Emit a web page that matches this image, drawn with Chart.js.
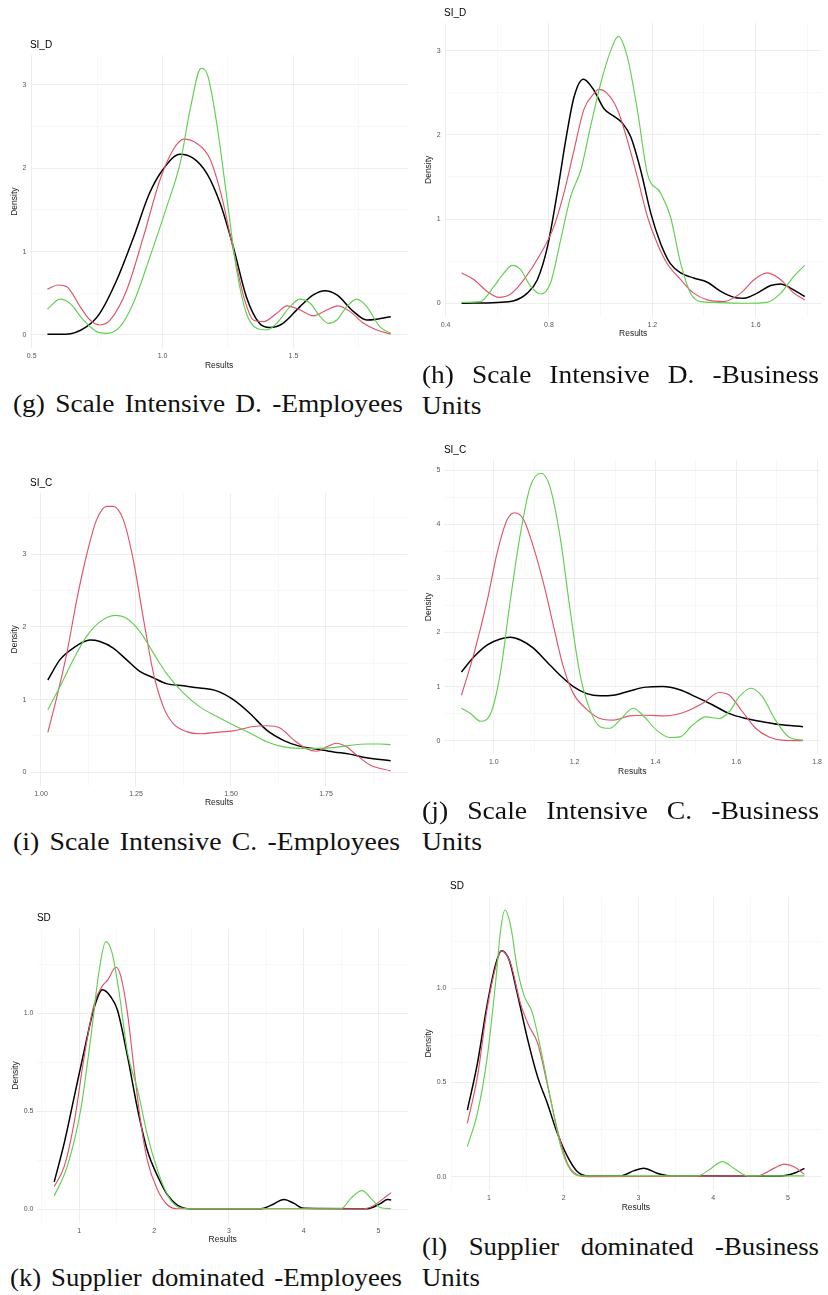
<!DOCTYPE html>
<html>
<head>
<meta charset="utf-8">
<script src="https://cdn.jsdelivr.net/npm/chart.js@4.4.0/dist/chart.umd.min.js"></script>
<style>
  body { margin: 0; background: #fff; width: 828px; height: 1295px; position: relative; overflow: hidden; }
  canvas { position: absolute; }
  .cap { position: absolute; font-family: "Liberation Serif", "Times New Roman", serif; font-size: 24.5px;
         line-height: 24.5px; white-space: nowrap; color: #111; transform-origin: 0 0; word-spacing: 3px; }
</style>
</head>
<body>
<script>
// density curves, [x, y] pairs
// (g) SI_D employees
const gBlack = [[0.56,0.01],[0.63,0.01],[0.71,0.1],[0.76,0.26],[0.825,0.66],[0.89,1.18],[0.95,1.7],[1.0,1.98],[1.067,2.17],[1.118,2.12],[1.169,1.94],[1.22,1.58],[1.27,1.06],[1.32,0.46],[1.37,0.14],[1.41,0.09],[1.46,0.14],[1.525,0.34],[1.576,0.48],[1.62,0.53],[1.666,0.48],[1.73,0.28],[1.78,0.18],[1.818,0.19],[1.872,0.22]];
const gRed = [[0.56,0.55],[0.6,0.6],[0.634,0.58],[0.685,0.34],[0.723,0.18],[0.76,0.12],[0.8,0.18],[0.863,0.54],[0.927,1.18],[0.99,1.86],[1.04,2.22],[1.08,2.35],[1.13,2.3],[1.18,2.12],[1.226,1.66],[1.27,1.02],[1.31,0.46],[1.347,0.18],[1.385,0.16],[1.436,0.26],[1.475,0.35],[1.525,0.3],[1.576,0.23],[1.627,0.3],[1.67,0.35],[1.717,0.28],[1.768,0.14],[1.818,0.06],[1.872,0.01]];
const gGreen = [[0.56,0.31],[0.608,0.43],[0.646,0.38],[0.697,0.18],[0.748,0.04],[0.787,0.02],[0.838,0.1],[0.888,0.38],[0.952,0.94],[1.016,1.54],[1.067,2.06],[1.105,2.7],[1.147,3.2],[1.172,3.12],[1.207,2.54],[1.245,1.66],[1.283,0.78],[1.32,0.26],[1.36,0.08],[1.398,0.06],[1.436,0.14],[1.487,0.34],[1.525,0.43],[1.564,0.38],[1.602,0.22],[1.634,0.14],[1.666,0.18],[1.704,0.34],[1.742,0.43],[1.78,0.34],[1.83,0.1],[1.872,0.02]];
// (h) SI_D business units
const hBlack = [[0.462,0.0],[0.6,0.01],[0.665,0.03],[0.716,0.12],[0.755,0.28],[0.794,0.67],[0.832,1.31],[0.865,1.94],[0.897,2.45],[0.933,2.66],[0.974,2.53],[1.013,2.31],[1.052,2.22],[1.084,2.14],[1.116,1.98],[1.155,1.58],[1.194,1.07],[1.232,0.71],[1.27,0.47],[1.31,0.36],[1.36,0.3],[1.413,0.25],[1.465,0.14],[1.516,0.07],[1.555,0.06],[1.606,0.12],[1.658,0.21],[1.697,0.23],[1.735,0.18],[1.79,0.08]];
const hRed = [[0.462,0.36],[0.51,0.28],[0.561,0.14],[0.606,0.07],[0.652,0.11],[0.703,0.28],[0.768,0.59],[0.819,0.91],[0.858,1.31],[0.897,1.82],[0.935,2.3],[0.974,2.49],[0.993,2.54],[1.026,2.49],[1.065,2.3],[1.103,1.94],[1.142,1.5],[1.181,1.03],[1.219,0.71],[1.258,0.47],[1.31,0.28],[1.36,0.12],[1.413,0.04],[1.477,0.02],[1.542,0.12],[1.594,0.28],[1.645,0.36],[1.697,0.28],[1.748,0.12],[1.79,0.04]];
const hGreen = [[0.462,0.01],[0.535,0.02],[0.587,0.2],[0.626,0.36],[0.658,0.45],[0.69,0.4],[0.729,0.2],[0.768,0.11],[0.806,0.24],[0.845,0.75],[0.884,1.27],[0.923,1.58],[0.961,2.1],[1.0,2.61],[1.039,3.0],[1.068,3.17],[1.103,2.93],[1.142,2.3],[1.181,1.54],[1.232,1.31],[1.27,1.03],[1.31,0.47],[1.348,0.12],[1.387,0.02],[1.439,0.01],[1.568,0.0],[1.645,0.01],[1.697,0.12],[1.748,0.32],[1.79,0.45]];
// (i) SI_C employees
const iBlack = [[1.018,1.27],[1.05,1.55],[1.085,1.71],[1.129,1.82],[1.155,1.8],[1.19,1.71],[1.225,1.55],[1.26,1.39],[1.296,1.3],[1.33,1.22],[1.375,1.19],[1.418,1.16],[1.462,1.12],[1.506,1.0],[1.55,0.81],[1.594,0.58],[1.638,0.44],[1.68,0.36],[1.725,0.32],[1.77,0.28],[1.813,0.25],[1.857,0.2],[1.92,0.16]];
const iRed = [[1.018,0.55],[1.04,1.0],[1.068,1.64],[1.094,2.37],[1.12,2.99],[1.146,3.47],[1.173,3.66],[1.19,3.66],[1.217,3.47],[1.243,2.92],[1.27,2.1],[1.296,1.36],[1.322,0.9],[1.348,0.67],[1.383,0.56],[1.418,0.53],[1.462,0.55],[1.506,0.57],[1.559,0.63],[1.594,0.64],[1.629,0.61],[1.664,0.45],[1.7,0.32],[1.725,0.29],[1.752,0.35],[1.778,0.4],[1.804,0.35],[1.83,0.24],[1.866,0.1],[1.92,0.02]];
const iGreen = [[1.018,0.86],[1.05,1.18],[1.085,1.55],[1.12,1.87],[1.155,2.07],[1.195,2.16],[1.225,2.12],[1.26,1.94],[1.296,1.64],[1.33,1.36],[1.375,1.09],[1.418,0.9],[1.462,0.77],[1.506,0.65],[1.55,0.54],[1.594,0.42],[1.638,0.35],[1.68,0.33],[1.725,0.33],[1.77,0.34],[1.813,0.37],[1.857,0.39],[1.892,0.39],[1.92,0.38]];
// (j) SI_C business units
const jBlack = [[0.92,1.27],[0.951,1.55],[0.984,1.77],[1.016,1.88],[1.041,1.91],[1.066,1.86],[1.098,1.71],[1.131,1.46],[1.164,1.21],[1.197,1.0],[1.23,0.87],[1.263,0.83],[1.295,0.84],[1.336,0.92],[1.377,0.99],[1.418,1.0],[1.46,0.94],[1.5,0.81],[1.542,0.66],[1.583,0.5],[1.624,0.41],[1.665,0.35],[1.706,0.3],[1.765,0.26]];
const jRed = [[0.92,0.84],[0.951,1.61],[0.984,2.6],[1.008,3.46],[1.033,4.08],[1.052,4.21],[1.074,4.08],[1.098,3.58],[1.123,2.91],[1.148,2.11],[1.172,1.37],[1.197,0.87],[1.23,0.58],[1.263,0.41],[1.295,0.38],[1.336,0.46],[1.377,0.47],[1.426,0.46],[1.476,0.54],[1.517,0.69],[1.558,0.89],[1.583,0.84],[1.615,0.54],[1.648,0.23],[1.681,0.07],[1.714,0.01],[1.765,0.0]];
const jGreen = [[0.92,0.6],[0.943,0.5],[0.967,0.36],[0.992,0.5],[1.016,1.24],[1.041,2.6],[1.066,3.83],[1.09,4.69],[1.117,4.94],[1.139,4.69],[1.164,3.77],[1.189,2.41],[1.213,1.24],[1.238,0.57],[1.263,0.26],[1.287,0.23],[1.312,0.38],[1.345,0.6],[1.369,0.47],[1.402,0.2],[1.435,0.06],[1.46,0.07],[1.492,0.29],[1.525,0.44],[1.558,0.41],[1.583,0.54],[1.607,0.81],[1.636,0.97],[1.665,0.81],[1.697,0.38],[1.73,0.07],[1.765,0.01]];
// (k) SD employees
const kBlack = [[0.665,0.14],[0.8,0.34],[0.93,0.57],[1.066,0.81],[1.2,1.03],[1.31,1.12],[1.42,1.085],[1.51,1.017],[1.645,0.78],[1.78,0.51],[1.91,0.3],[2.046,0.17],[2.18,0.073],[2.31,0.022],[2.49,0.003],[3.43,0.003],[3.56,0.02],[3.74,0.05],[3.87,0.03],[4.0,0.005],[4.85,0.003],[5.03,0.03],[5.12,0.05],[5.17,0.048]];
const kRed = [[0.665,0.116],[0.8,0.22],[0.93,0.44],[1.066,0.78],[1.2,1.05],[1.31,1.14],[1.38,1.17],[1.49,1.235],[1.555,1.19],[1.645,1.0],[1.734,0.71],[1.823,0.44],[1.91,0.25],[2.046,0.1],[2.18,0.022],[2.31,0.003],[4.8,0.003],[4.94,0.02],[5.07,0.056],[5.17,0.085]];
const kGreen = [[0.665,0.068],[0.84,0.22],[1.02,0.51],[1.155,0.88],[1.266,1.22],[1.355,1.366],[1.44,1.306],[1.535,1.1],[1.645,0.8],[1.78,0.61],[1.91,0.38],[2.046,0.2],[2.18,0.073],[2.31,0.014],[2.45,0.003],[4.5,0.003],[4.63,0.056],[4.78,0.095],[4.92,0.048],[5.03,0.008],[5.17,0.003]];
// (l) SD business units
const lBlack = [[0.71,0.354],[0.844,0.6],[0.978,0.92],[1.09,1.13],[1.165,1.2],[1.27,1.15],[1.38,0.97],[1.51,0.74],[1.65,0.53],[1.78,0.39],[1.914,0.23],[2.05,0.106],[2.18,0.027],[2.315,0.004],[2.76,0.004],[2.94,0.032],[3.07,0.045],[3.25,0.018],[3.43,0.004],[4.9,0.004],[5.08,0.018],[5.22,0.044]];
const lRed = [[0.71,0.283],[0.844,0.53],[0.978,0.9],[1.09,1.115],[1.165,1.2],[1.29,1.13],[1.42,0.92],[1.535,0.8],[1.65,0.71],[1.78,0.49],[1.914,0.25],[2.05,0.07],[2.18,0.01],[2.315,0.0],[4.59,0.004],[4.81,0.044],[4.95,0.067],[5.08,0.053],[5.22,0.012]];
const lGreen = [[0.71,0.16],[0.844,0.336],[0.978,0.64],[1.09,1.04],[1.155,1.31],[1.214,1.416],[1.29,1.33],[1.38,1.1],[1.47,0.96],[1.58,0.87],[1.69,0.68],[1.825,0.41],[1.96,0.16],[2.09,0.035],[2.23,0.004],[3.79,0.004],[3.97,0.044],[4.12,0.08],[4.28,0.044],[4.46,0.004],[5.22,0.004]];

// tick values (labelled) and minor grid values
const gXTicks = [0.5, 1.0, 1.5], gXMinor = [0.75, 1.25, 1.75];
const hXTicks = [0.4, 0.8, 1.2, 1.6], hXMinor = [0.6, 1.0, 1.4, 1.8];
const iXTicks = [1.0, 1.25, 1.5, 1.75], iXMinor = [1.125, 1.375, 1.625, 1.875];
const jXTicks = [1.0, 1.2, 1.4, 1.6, 1.8], jXMinor = [0.9, 1.1, 1.3, 1.5, 1.7];
const sdXTicks = [1, 2, 3, 4, 5], sdXMinor = [0.5, 1.5, 2.5, 3.5, 4.5];
const y3Ticks = [0, 1, 2, 3], y3Minor = [0.5, 1.5, 2.5, 3.5];
const y5Ticks = [0, 1, 2, 3, 4, 5], y5Minor = [0.5, 1.5, 2.5, 3.5, 4.5];
const sdYTicks = [0, 0.5, 1.0], sdYMinor = [0.25, 0.75, 1.25];

const colors = ['#000000', '#DF536B', '#61D04F'];
const widths = [1.5, 1.15, 1.15];

const panels = [
  { title: 'SI_D', box: [30.4, 55, 407.8, 348.3], x: [0.495, 1.937], y: [-0.16, 3.36],
    xt: gXTicks, xm: gXMinor, xd: 1, yt: y3Ticks, ym: y3Minor, yd: 0, yOff: 15.5, series: [gBlack, gRed, gGreen] },
  { title: 'SI_D', box: [444.6, 23, 821.8, 316.6], x: [0.396, 1.856], y: [-0.1585, 3.3285],
    xt: hXTicks, xm: hXMinor, xd: 1, yt: y3Ticks, ym: y3Minor, yd: 0, yOff: 15.5, series: [hBlack, hRed, hGreen] },
  { title: 'SI_C', box: [30.5, 493, 407.7, 785.6], x: [0.9724, 1.965], y: [-0.183, 3.843],
    xt: iXTicks, xm: iXMinor, xd: 2, yt: y3Ticks, ym: y3Minor, yd: 0, yOff: 15.5, series: [iBlack, iRed, iGreen] },
  { title: 'SI_C', box: [444.4, 459.9, 822, 754.1], x: [0.8778, 1.8073], y: [-0.247, 5.187],
    xt: jXTicks, xm: jXMinor, xd: 1, yt: y5Ticks, ym: y5Minor, yd: 0, yOff: 15.5, series: [jBlack, jRed, jGreen] },
  { title: 'SD', box: [37.4, 928.3, 408, 1222.7], x: [0.44, 5.395], y: [-0.0683, 1.434],
    xt: sdXTicks, xm: sdXMinor, xd: 0, yt: sdYTicks, ym: sdYMinor, yd: 1, yOff: 22, series: [kBlack, kRed, kGreen] },
  { title: 'SD', box: [450.5, 896.7, 821.3, 1190], x: [0.4845, 5.4455], y: [-0.0708, 1.4868],
    xt: sdXTicks, xm: sdXMinor, xd: 0, yt: sdYTicks, ym: sdYMinor, yd: 1, yOff: 22, series: [lBlack, lRed, lGreen] }
];

const FONT = '"Liberation Sans", Arial, sans-serif';

const panelTitle = {
  id: 'ptitle',
  afterDraw(chart, args, opts) {
    const { ctx, chartArea } = chart;
    ctx.save();
    ctx.font = '10px ' + FONT;
    ctx.fillStyle = '#000';
    ctx.textBaseline = 'middle';
    ctx.fillText(opts.text, chartArea.left - 0.5, chartArea.top - 10);
    ctx.restore();
  }
};

function tickList(major, minor, lo, hi) {
  return major.map(v => ({ value: v }))
    .concat(minor.map(v => ({ value: v, minor: true })))
    .filter(t => t.value >= lo && t.value <= hi)
    .sort((a, b) => a.value - b.value);
}

function gridOpts() {
  return {
    drawTicks: false,
    color: c => (c.tick && c.tick.minor ? '#f3f3f3' : '#ebebeb'),
    lineWidth: c => (c.tick && c.tick.minor ? 0.6 : 0.9)
  };
}

function makeChart(p) {
  const [l, t, r, b] = p.box;
  const cl = Math.floor(l - 36), ct = Math.floor(t - 22);
  const cr = Math.ceil(r + 4), cb = Math.ceil(b + 26);
  const canvas = document.createElement('canvas');
  canvas.width = cr - cl;
  canvas.height = cb - ct;
  canvas.style.left = cl + 'px';
  canvas.style.top = ct + 'px';
  document.body.appendChild(canvas);
  const yW = l - cl, xH = cb - b;

  new Chart(canvas.getContext('2d'), {
    type: 'line',
    data: {
      datasets: p.series.map((s, i) => ({
        data: s.map(([x, y]) => ({ x, y })),
        borderColor: colors[i],
        borderWidth: widths[i],
        order: 2 - i,
        fill: false
      }))
    },
    options: {
      responsive: false,
      animation: false,
      parsing: false,
      layout: { padding: { left: 0, top: t - ct, right: cr - r, bottom: 0 } },
      elements: { point: { radius: 0 }, line: { cubicInterpolationMode: 'monotone' } },
      plugins: { legend: { display: false }, tooltip: { enabled: false }, ptitle: { text: p.title } },
      scales: {
        x: {
          type: 'linear', min: p.x[0], max: p.x[1], bounds: 'data',
          border: { display: false },
          grid: gridOpts(),
          afterBuildTicks: s => { s.ticks = tickList(p.xt, p.xm, p.x[0], p.x[1]); },
          afterFit: s => { s.height = xH; },
          ticks: {
            autoSkip: false, maxRotation: 0, padding: 4, color: '#555',
            font: { family: FONT, size: 7 },
            callback: (v, i, ts) => (ts[i].minor ? '' : v.toFixed(p.xd))
          },
          title: { display: true, text: 'Results', color: '#222', font: { family: FONT, size: 8.5 },
                   padding: { top: 0, bottom: xH - 17.2 - 5.1 } }
        },
        y: {
          type: 'linear', min: p.y[0], max: p.y[1], bounds: 'data',
          border: { display: false },
          grid: gridOpts(),
          afterBuildTicks: s => { s.ticks = tickList(p.yt, p.ym, p.y[0], p.y[1]); },
          afterFit: s => { s.width = yW; },
          ticks: {
            autoSkip: false, padding: 4, color: '#555',
            font: { family: FONT, size: 7 },
            callback: (v, i, ts) => (ts[i].minor ? '' : v.toFixed(p.yd))
          },
          title: { display: true, text: 'Density', color: '#222', font: { family: FONT, size: 8.5 },
                   padding: { top: yW - p.yOff - 5.1, bottom: 0 } }
        }
      }
    },
    plugins: [panelTitle]
  });
}

panels.forEach(makeChart);

// captions under the panels
const CAP_FS = 24.5;
const BASE_OFF = 0.891 * CAP_FS + (CAP_FS - 1.107 * CAP_FS) / 2;

function capDiv(text, x, base) {
  const d = document.createElement('div');
  d.className = 'cap';
  d.textContent = text;
  d.style.left = x + 'px';
  d.style.top = (base - BASE_OFF) + 'px';
  document.body.appendChild(d);
  return d;
}
function caption(text, x, base, width) {
  const d = capDiv(text, x, base);
  const s = width / d.getBoundingClientRect().width;
  d.style.transform = 'scaleX(' + s + ')';
  return s;
}
function justified(text, x, base, width, s) {
  const d = capDiv(text, x, base);
  d.style.whiteSpace = 'normal';
  d.style.width = (width / s) + 'px';
  d.style.textAlign = 'justify';
  d.style.textAlignLast = 'justify';
  d.style.transform = 'scaleX(' + s + ')';
}
function plain(text, x, base, s) {
  const d = capDiv(text, x, base);
  d.style.transform = 'scaleX(' + s + ')';
}

const s1 = caption('(g) Scale Intensive D. -Employees', 13, 413, 390);
justified('(h) Scale Intensive D. -Business', 422, 383.5, 397, s1);
plain('Units', 422, 414.5, s1);

const s2 = caption('(i) Scale Intensive C. -Employees', 13, 851, 387);
justified('(j) Scale Intensive C. -Business', 422, 820, 397, s2);
plain('Units', 422, 851, s2);

const s3 = caption('(k) Supplier dominated -Employees', 10, 1286.5, 392);
justified('(l) Supplier dominated -Business', 422, 1256, 397, s3);
plain('Units', 422, 1286.5, s3);
</script>
</body>
</html>
